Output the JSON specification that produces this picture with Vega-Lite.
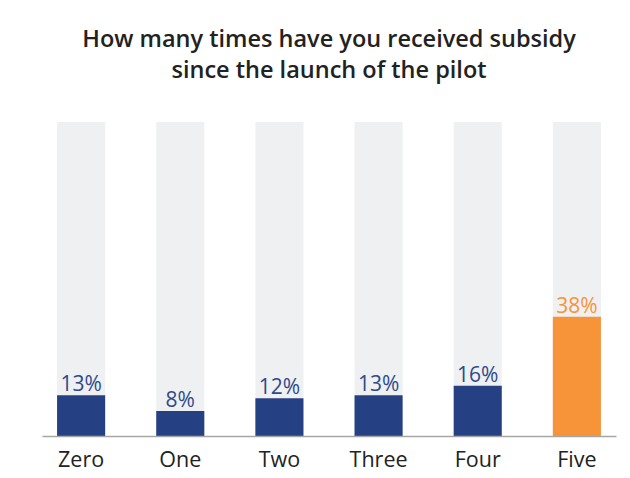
{
  "$schema": "https://vega.github.io/schema/vega-lite/v6.json",
  "width": 574,
  "height": 314,
  "autosize": {"type": "none"},
  "padding": {"left": 42, "top": 122, "right": 14, "bottom": 42},
  "background": "white",
  "title": {
    "text": ["How many times have you received subsidy", "since the launch of the pilot"],
    "anchor": "middle",
    "font": "Open Sans",
    "fontSize": 23.5,
    "fontWeight": 600,
    "color": "#222222",
    "lineHeight": 31,
    "offset": 40
  },
  "data": {
    "values": [
      {"times": "Zero", "share": 0.13},
      {"times": "One", "share": 0.08},
      {"times": "Two", "share": 0.12},
      {"times": "Three", "share": 0.13},
      {"times": "Four", "share": 0.16},
      {"times": "Five", "share": 0.38}
    ]
  },
  "encoding": {
    "x": {
      "field": "times",
      "type": "nominal",
      "sort": null,
      "scale": {"paddingInner": 0.515, "paddingOuter": 0.152},
      "axis": {
        "title": null,
        "ticks": false,
        "labelAngle": 0,
        "labelFont": "Open Sans",
        "labelFontSize": 21.5,
        "labelColor": "#222222",
        "labelPadding": 13,
        "domainColor": "#a6a6a6",
        "domainWidth": 1.5,
        "zindex": 1
      }
    }
  },
  "layer": [
    {
      "mark": {"type": "bar", "color": "#eff0f2"},
      "encoding": {
        "y": {"datum": 1, "type": "quantitative", "scale": {"domain": [0, 1]}, "axis": null}
      }
    },
    {
      "mark": {"type": "bar"},
      "encoding": {
        "y": {"field": "share", "type": "quantitative", "scale": {"domain": [0, 1]}, "axis": null},
        "color": {
          "condition": {"test": "datum.times === 'Five'", "value": "#f7943a"},
          "value": "#264183"
        }
      }
    },
    {
      "mark": {"type": "text", "baseline": "alphabetic", "dy": -4, "font": "Open Sans", "fontSize": 21},
      "encoding": {
        "y": {"field": "share", "type": "quantitative", "scale": {"domain": [0, 1]}, "axis": null},
        "text": {"field": "share", "type": "quantitative", "format": ".0%"},
        "color": {
          "condition": {"test": "datum.times === 'Five'", "value": "#f7943a"},
          "value": "#2e4a8c"
        }
      }
    }
  ],
  "config": {"view": {"stroke": null}}
}
